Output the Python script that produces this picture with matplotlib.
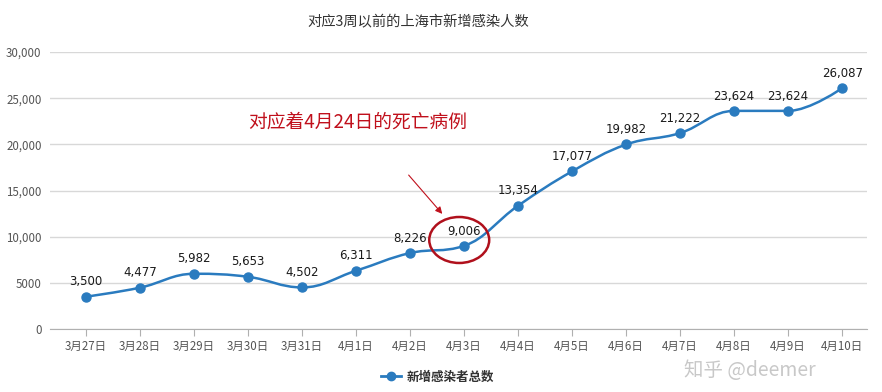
"""上海市新增感染人数 (3周前) 折线图, Highcharts 风格的平滑曲线."""

import matplotlib
matplotlib.use("Agg")
import matplotlib.pyplot as plt
from matplotlib.path import Path
from matplotlib.patches import PathPatch, Ellipse
from matplotlib.lines import Line2D
from matplotlib.ticker import FuncFormatter

plt.rcParams["font.family"] = ["Noto Sans CJK SC", "DejaVu Sans"]

dates = ["3月27日", "3月28日", "3月29日", "3月30日", "3月31日", "4月1日", "4月2日",
         "4月3日", "4月4日", "4月5日", "4月6日", "4月7日", "4月8日", "4月9日", "4月10日"]
cases = [3500, 4477, 5982, 5653, 4502, 6311, 8226,
         9006, 13354, 17077, 19982, 21222, 23624, 23624, 26087]

LINE = "#2a7bbf"
RED = "#c0101c"


def spline_path(xs, ys, smoothing=1.5):
    """Curva Bezier como el 'spline' de Highcharts."""
    denom = smoothing + 1
    n = len(xs)
    verts = [(xs[0], ys[0])]
    codes = [Path.MOVETO]
    right = [(xs[0], ys[0])] * n
    left = [(xs[0], ys[0])] * n
    for i in range(n):
        x, y = xs[i], ys[i]
        if i == 0 or i == n - 1:
            left[i] = right[i] = (x, y)
            continue
        lx, ly = xs[i - 1], ys[i - 1]
        nx, ny = xs[i + 1], ys[i + 1]
        lcx = (smoothing * x + lx) / denom
        lcy = (smoothing * y + ly) / denom
        rcx = (smoothing * x + nx) / denom
        rcy = (smoothing * y + ny) / denom
        if rcx != lcx:
            corr = (rcy - lcy) * (rcx - x) / (rcx - lcx) + y - rcy
            lcy += corr
            rcy += corr
        # evita sobrepasar los puntos vecinos
        if lcy > ly and lcy > y:
            lcy = max(ly, y)
            rcy = 2 * y - lcy
        elif lcy < ly and lcy < y:
            lcy = min(ly, y)
            rcy = 2 * y - lcy
        if rcy > ny and rcy > y:
            rcy = max(ny, y)
            lcy = 2 * y - rcy
        elif rcy < ny and rcy < y:
            rcy = min(ny, y)
            lcy = 2 * y - rcy
        left[i] = (lcx, lcy)
        right[i] = (rcx, rcy)
    for i in range(1, n):
        verts += [right[i - 1], left[i], (xs[i], ys[i])]
        codes += [Path.CURVE4] * 3
    return Path(verts, codes)


def main() -> None:
    fig = plt.figure(figsize=(8.82, 3.92), dpi=100)
    ax = fig.add_axes([50 / 882, 1 - 329 / 392, 817 / 882, 277 / 392])

    xs = list(range(len(dates)))
    ax.add_patch(PathPatch(spline_path(xs, cases), facecolor="none",
                           edgecolor=LINE, lw=1.8, zorder=3))
    ax.plot(xs, cases, "o", color=LINE, ms=6.5, zorder=4)

    for x, v in zip(xs, cases):
        ax.annotate(f"{v:,}", (x, v), xytext=(0, 6), textcoords="offset points",
                    ha="center", va="bottom", fontsize=8.5,
                    color="#1a1a1a", family=["DejaVu Sans"], zorder=5)

    ax.set_xlim(-0.667, 14.46)
    ax.set_ylim(0, 30000)
    ax.set_yticks(range(0, 30001, 5000))
    ax.yaxis.set_major_formatter(FuncFormatter(
        lambda v, _: "5000" if v == 5000 else f"{v:,.0f}"))
    ax.set_xticks(xs)
    ax.set_xticklabels(dates)
    ax.grid(axis="y", color="#d8d8d8", lw=1)
    ax.set_axisbelow(True)
    for s in ("top", "right", "left"):
        ax.spines[s].set_visible(False)
    ax.spines["bottom"].set_color("#b0b0b0")
    ax.tick_params(axis="y", length=0, labelsize=8.3, labelcolor="#555555", pad=6)
    ax.tick_params(axis="x", length=5, color="#b0b0b0", labelsize=8.3,
                   labelcolor="#555555", pad=3)

    fig.text(0.474, 1 - 22 / 392, "对应3周以前的上海市新增感染人数", ha="center",
             va="center", fontsize=10.3, color="#333333")

    # anotacion roja
    ax.text(3.0, 22420, "对应着4月24日的死亡病例", color=RED, fontsize=13.5,
            va="center", ha="left")
    ax.add_patch(Ellipse((6.91, 9640), 1.11, 4980, fill=False, ec="#b0101c",
                         lw=1.8, zorder=6))
    ax.annotate("", xy=(6.63, 12240), xytext=(5.94, 16900),
                arrowprops=dict(arrowstyle="-|>", color=RED, lw=0.8,
                                mutation_scale=10))

    handle = Line2D([], [], color=LINE, lw=2, marker="o", ms=6)
    fig.legend([handle], ["新增感染者总数"], loc="center",
               bbox_to_anchor=(0.496, 1 - 377 / 392), frameon=False,
               prop={"size": 9, "weight": "bold"}, handlelength=1.6,
               handletextpad=0.4, labelcolor="#333333")

    fig.text(0.775, 1 - 371 / 392, "知乎 @deemer", fontsize=14, color="#bbbbbb",
             alpha=0.8, ha="left", va="center")

    fig.savefig("out.png", dpi=100, facecolor="white")


if __name__ == "__main__":
    main()
